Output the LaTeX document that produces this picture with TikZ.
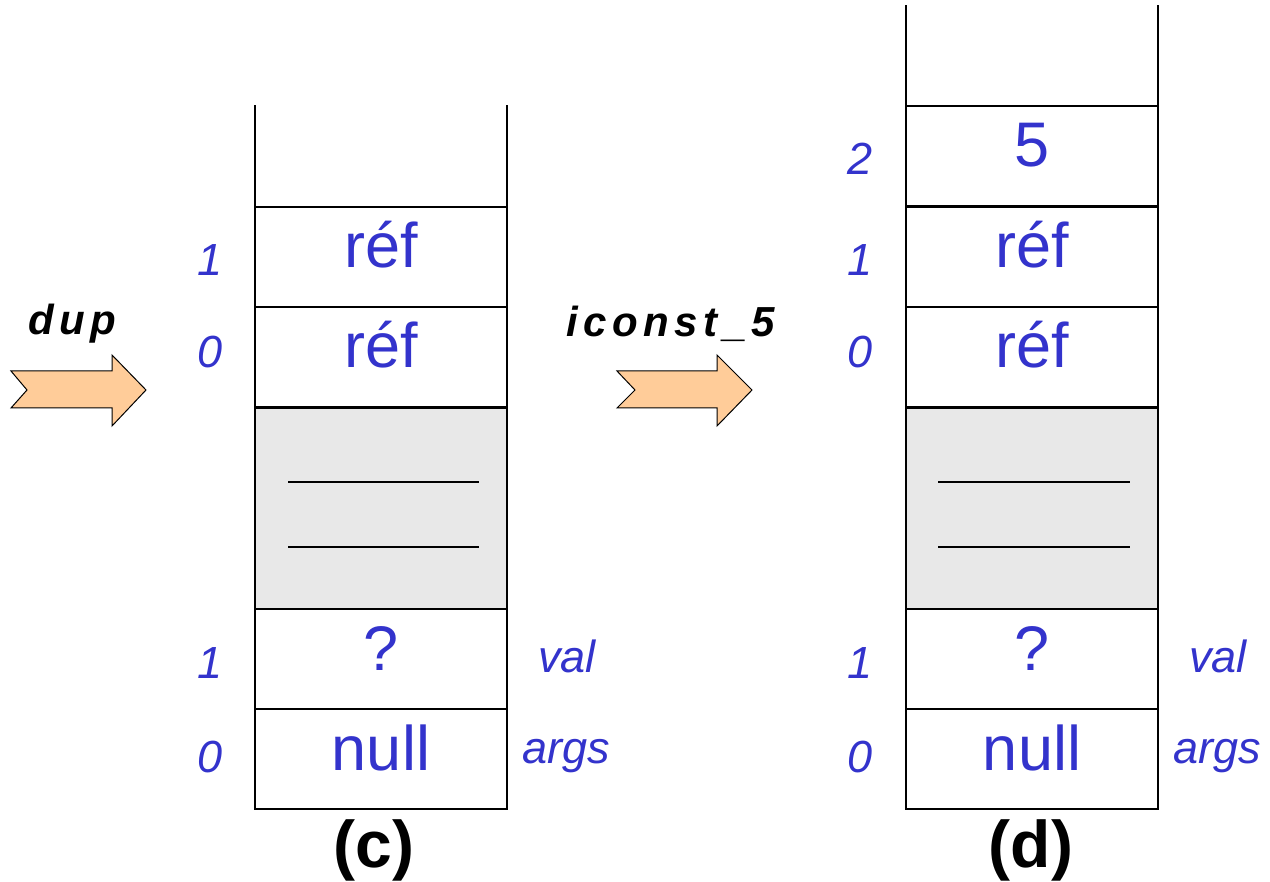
\documentclass[tikz,border=0pt]{standalone}
\usepackage{fontspec}
\setmainfont{Liberation Sans}
\newfontfamily\trackfont[LetterSpace=13]{Liberation Sans}
\definecolor{idxblue}{HTML}{3333CC}
\definecolor{arrowfill}{HTML}{FFCC99}
\definecolor{cellgray}{HTML}{E8E8E8}
\tikzset{
  cellbox/.style={draw=black, line width=1.3pt, minimum width=252pt, minimum height=100pt,
    anchor=north west, inner sep=0pt, outer sep=0pt},
  graybox/.style={cellbox, fill=cellgray, minimum height=201pt},
  content/.style={text=idxblue, anchor=base, inner sep=0pt, font=\fontsize{63}{70}\selectfont},
  idx/.style={text=idxblue, anchor=base, inner sep=0pt, font=\fontsize{45}{50}\selectfont\itshape},
  opname/.style={text=black, anchor=base, inner sep=0pt, font=\trackfont\fontsize{42}{46}\selectfont\bfseries\itshape},
  caption/.style={text=black, anchor=base, inner sep=0pt, font=\fontsize{66}{70}\selectfont\bfseries},
  fatarrow/.style={draw=black, line width=1pt, fill=arrowfill, line join=miter},
  sepline/.style={draw=black, line width=1.2pt},
  openline/.style={draw=black, line width=1.3pt}
}
\begin{document}
\begin{tikzpicture}[x=1pt,y=-1pt]
\useasboundingbox (0,0) rectangle (1270,882);

% ---------- left stack (c) ----------
\node[cellbox] (c1) at (255,207) {};
\node[cellbox] (c0) at (255,307) {};
\node[graybox] (cg) at (255,408) {};
\node[cellbox] (cv) at (255,609) {};
\node[cellbox] (ca) at (255,709) {};
\draw[openline] (c1.north west) -- ++(0,-102);
\draw[openline] (c1.north east) -- ++(0,-102);
\draw[sepline] (288,482) -- (479,482);
\draw[sepline] (288,547) -- (479,547);

\node[content] (c1t) at (381,268) {réf};
\node[content] (c0t) at (381,368) {réf};
\node[content] (cvt) at (381,670) {?};
\node[content] (cat) at (381,770) {null};

\node[idx] (ci1) at (210,276) {1};
\node[idx] (ci0) at (210,368) {0};
\node[idx] (cib1) at (210,678) {1};
\node[idx] (cib0) at (210,772) {0};
\node[idx] (cval) at (567,672) {val};
\node[idx] (cargs) at (566,763) {args};
\node[caption] (ccap) at (374,867) {(c)};

% ---------- right stack (d) ----------
\node[cellbox] (d2) at (906,106) {};
\node[cellbox] (d1) at (906,207) {};
\node[cellbox] (d0) at (906,307) {};
\node[graybox] (dg) at (906,408) {};
\node[cellbox] (dv) at (906,609) {};
\node[cellbox] (da) at (906,709) {};
\draw[openline] (d2.north west) -- ++(0,-101);
\draw[openline] (d2.north east) -- ++(0,-101);
\draw[sepline] (938,482) -- (1130,482);
\draw[sepline] (938,547) -- (1130,547);

\node[content] (d2t) at (1032,167) {5};
\node[content] (d1t) at (1032,268) {réf};
\node[content] (d0t) at (1032,368) {réf};
\node[content] (dvt) at (1032,670) {?};
\node[content] (dat) at (1032,770) {null};

\node[idx] (di2) at (860,175) {2};
\node[idx] (di1) at (860,276) {1};
\node[idx] (di0) at (860,368) {0};
\node[idx] (dib1) at (860,678) {1};
\node[idx] (dib0) at (860,772) {0};
\node[idx] (dval) at (1218,672) {val};
\node[idx] (dargs) at (1217,763) {args};
\node[caption] (dcap) at (1031,867) {(d)};

% ---------- operation arrows ----------
\node[opname] (dup) at (72,335) {dup};
\draw[fatarrow] (11,371) -- (112,371) -- (112,355) -- (146,390) -- (112,426) -- (112,408)
  -- (11,408) -- (27,390) -- cycle;

\node[opname] (ic5) at (671,337) {iconst\_5};
\draw[fatarrow] (617,371) -- (717,371) -- (717,355) -- (752,390) -- (717,426) -- (717,408)
  -- (617,408) -- (635,390) -- cycle;
\end{tikzpicture}
\end{document}
